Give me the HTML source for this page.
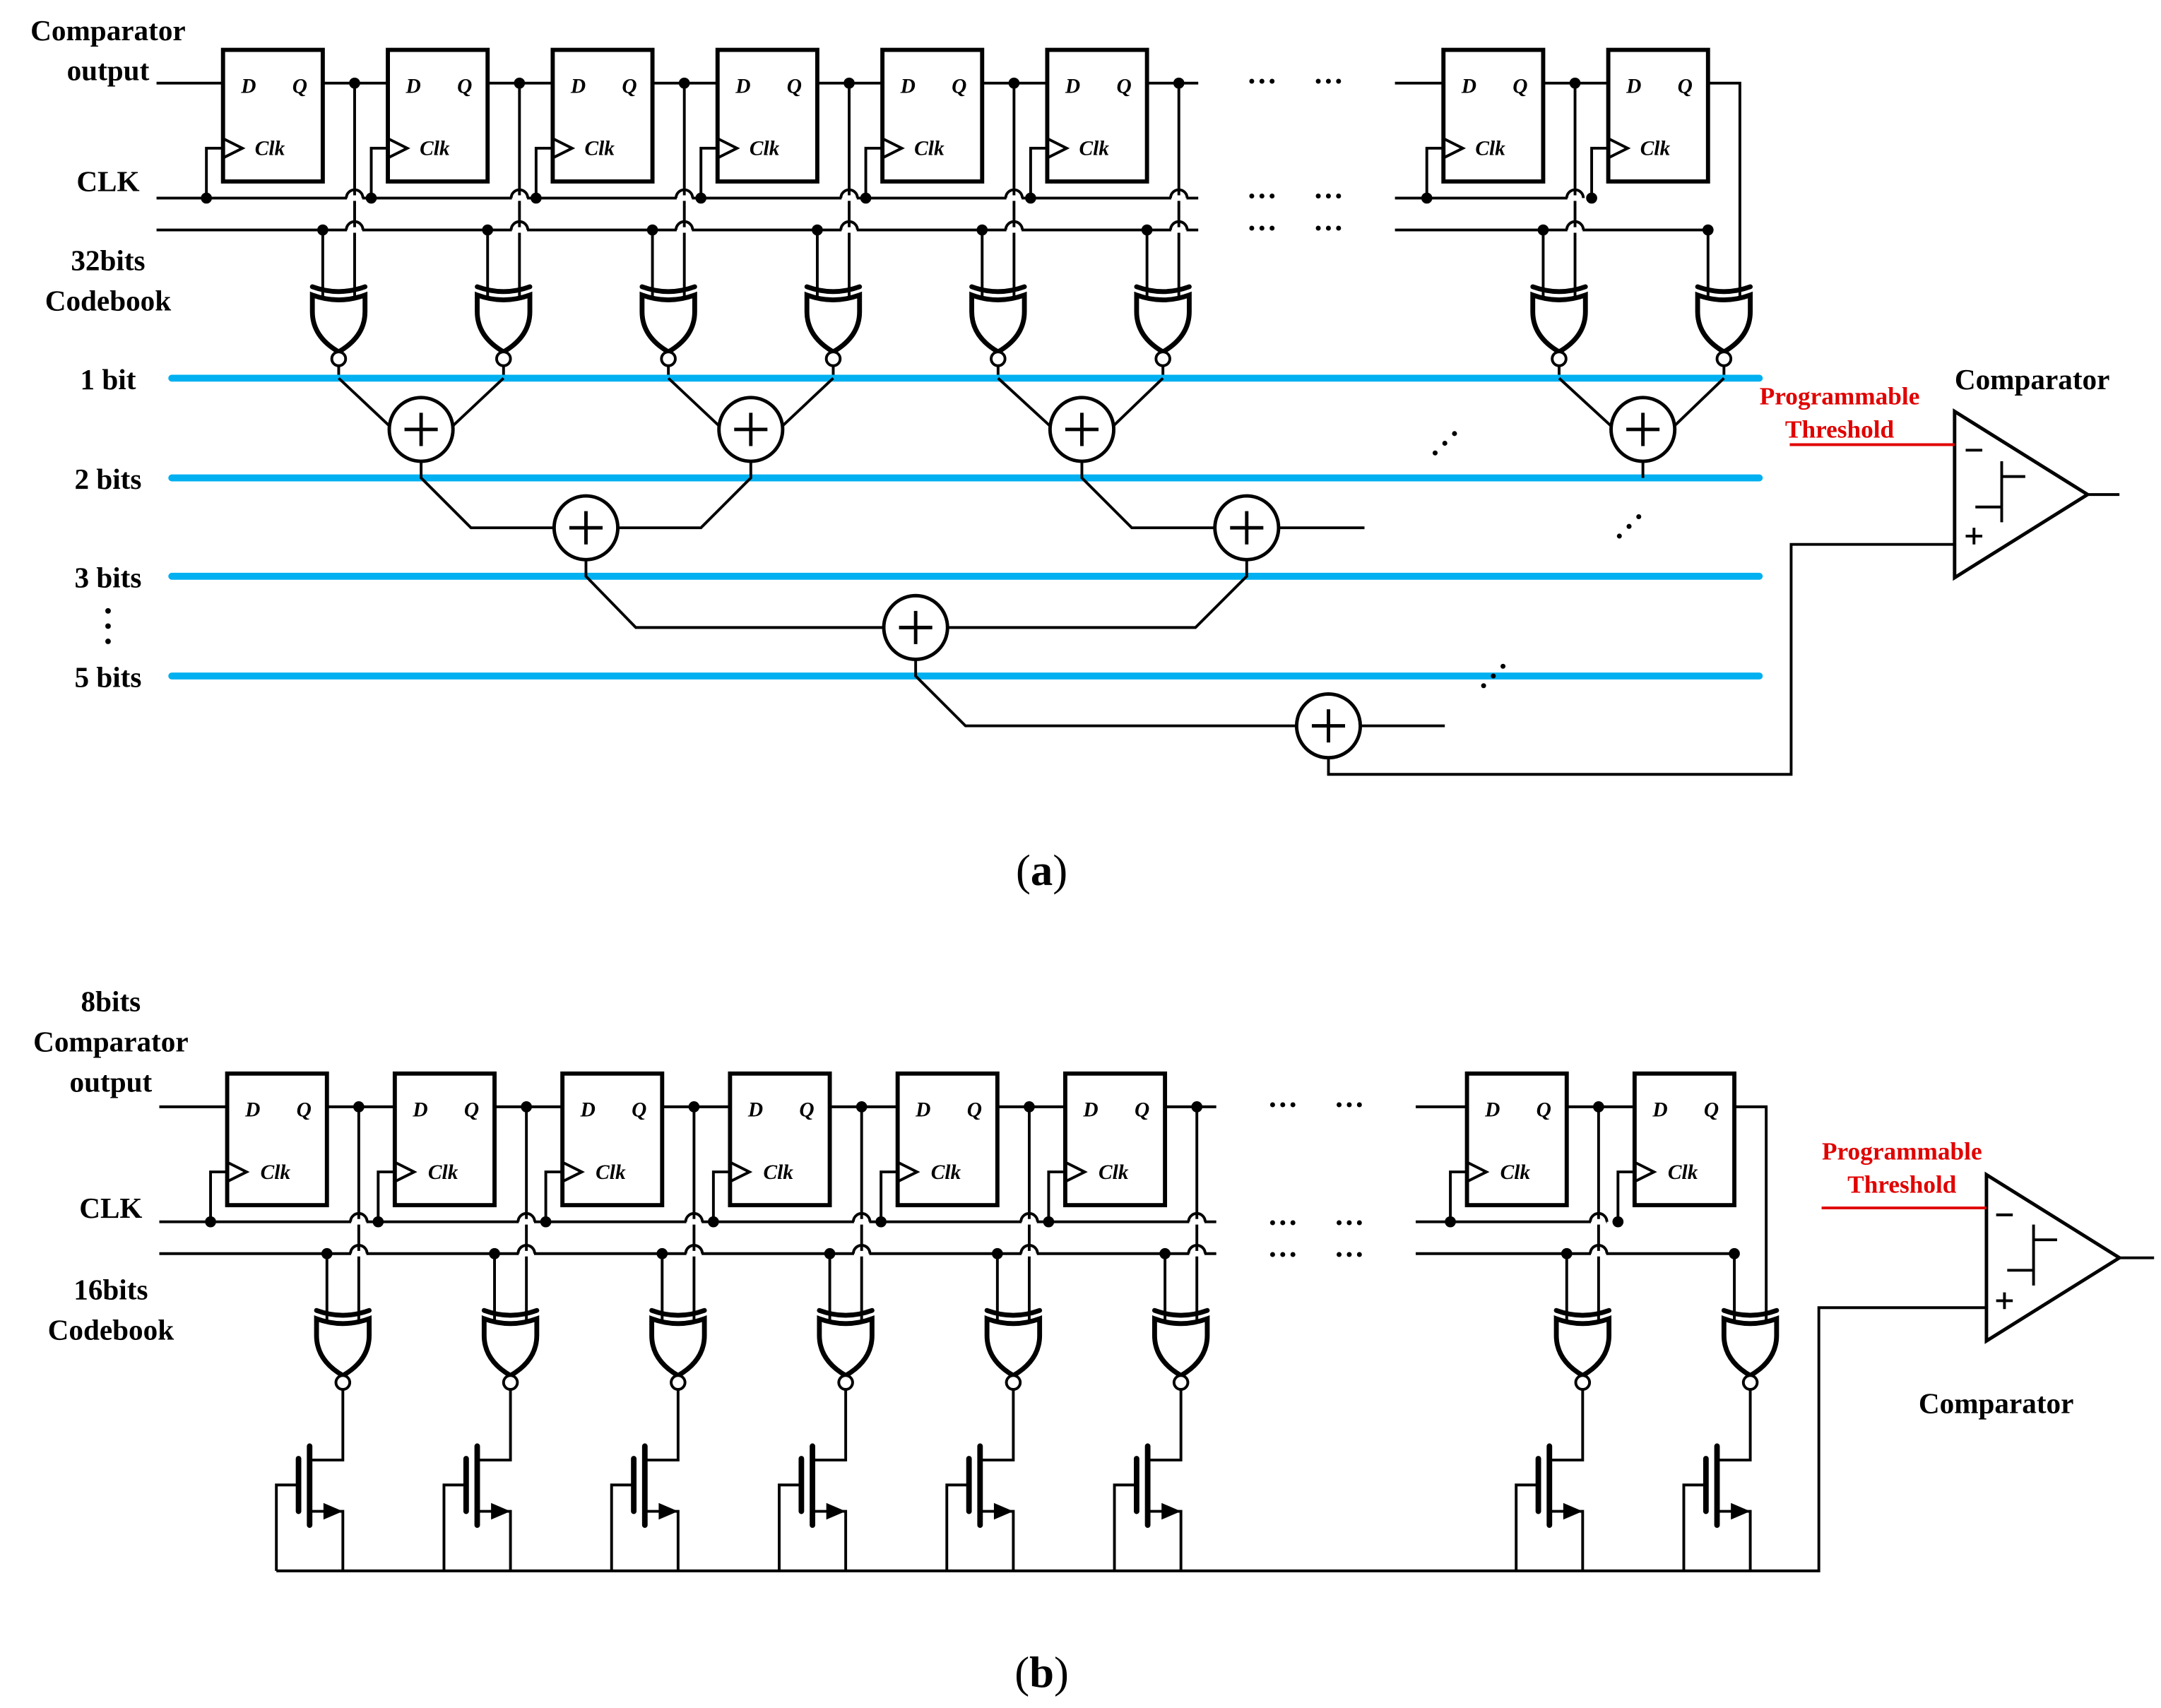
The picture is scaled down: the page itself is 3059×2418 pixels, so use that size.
<!DOCTYPE html>
<html><head><meta charset="utf-8"><style>
html,body{margin:0;padding:0;background:#fff;}
svg{display:block;}
text{font-family:"Liberation Serif",serif;font-weight:bold;}
.l{font-size:21px;text-anchor:middle;}
.ff{font-size:15px;font-style:italic;}
.red{fill:#e00000;font-size:18px;text-anchor:middle;}
</style></head><body>
<svg width="3059" height="2418" viewBox="0 0 1560 1233" preserveAspectRatio="none" xmlns="http://www.w3.org/2000/svg">
<defs>
<g id="base" stroke="#000" fill="none">
 <rect x="0" y="36" width="72" height="95" fill="#fff" stroke-width="3"/>
 <polyline points="0,100 14,107 0,114" stroke-width="2"/>
 <path d="M-12,143 V107 H0" stroke-width="2"/>
 <circle cx="-12" cy="143" r="3.5" fill="#000"/>
 <circle cx="72" cy="166" r="3.5" fill="#000"/>
 <line x1="72" y1="166" x2="72" y2="217" stroke-width="2"/>
 <path d="M64.5,207 Q83.5,214 102.5,207" stroke-width="3.5" stroke-linecap="round"/>
 <path d="M64.5,213 Q83.5,220 102.5,213 L102.5,225 Q102.5,243 83.5,254 Q64.5,243 64.5,225 Z" fill="#fff" stroke-width="3.5"/>
 <circle cx="83.5" cy="259" r="5" fill="#fff" stroke-width="2"/>
</g>
<g id="col" stroke="#000" fill="none">
 <circle cx="95" cy="60" r="3.5" fill="#000"/>
 <line x1="95" y1="60" x2="95" y2="217" stroke-width="2"/>
 <line x1="89.5" y1="143" x2="100.5" y2="143" stroke="#fff" stroke-width="4"/>
 <line x1="89.5" y1="166" x2="100.5" y2="166" stroke="#fff" stroke-width="4"/>
 <path d="M89,143 A6,6 0 0 1 101,143 M89,166 A6,6 0 0 1 101,166" stroke-width="2"/>
 <use href="#base"/>
</g>
<g id="colL" stroke="#000" fill="none">
 <path d="M72,60 H95 V217" stroke-width="2"/>
 <use href="#base"/>
</g>
<g id="add" stroke="#000" stroke-width="2.5">
 <circle cx="0" cy="0" r="23" fill="#fff"/>
 <path d="M-12,0 H12 M0,-12 V12"/>
</g>
<g id="tr" stroke="#000" fill="none" stroke-width="2">
 <path d="M0,1003 V1054 H-23"/>
 <line x1="-24" y1="1044" x2="-24" y2="1101" stroke-width="4" stroke-linecap="round"/>
 <line x1="-32" y1="1053" x2="-32" y2="1091" stroke-width="4" stroke-linecap="round"/>
 <path d="M-32,1072 H-48 V1134 M-24,1091 H0 V1134"/>
 <polygon points="-14,1085 0,1091 -14,1097" fill="#000" stroke="none"/>
</g>
</defs>

<!-- ===== (a) ===== -->
<g stroke="#000" stroke-width="2" fill="none">
 <path d="M113,60 H865 M1007,60 H1233"/>
 <path d="M113,143 H865 M1007,143 H1141"/>
 <path d="M113,166 H865 M1007,166 H1233"/>
</g>
<use href="#col" x="161"/><use href="#col" x="280"/><use href="#col" x="399"/>
<use href="#col" x="518"/><use href="#col" x="637"/><use href="#col" x="756"/>
<use href="#col" x="1042"/><use href="#colL" x="1161"/>
<g class="ff">
<text x="174" y="67">D</text><text x="211" y="67">Q</text><text x="184" y="112">Clk</text>
<text x="293" y="67">D</text><text x="330" y="67">Q</text><text x="303" y="112">Clk</text>
<text x="412" y="67">D</text><text x="449" y="67">Q</text><text x="422" y="112">Clk</text>
<text x="531" y="67">D</text><text x="568" y="67">Q</text><text x="541" y="112">Clk</text>
<text x="650" y="67">D</text><text x="687" y="67">Q</text><text x="660" y="112">Clk</text>
<text x="769" y="67">D</text><text x="806" y="67">Q</text><text x="779" y="112">Clk</text>
<text x="1055" y="67">D</text><text x="1092" y="67">Q</text><text x="1065" y="112">Clk</text>
<text x="1174" y="67">D</text><text x="1211" y="67">Q</text><text x="1184" y="112">Clk</text>
</g>
<g font-size="22" font-family="Liberation Serif" font-weight="bold" text-anchor="middle">
<text x="911" y="66">···</text><text x="959" y="66">···</text>
<text x="911" y="149">···</text><text x="959" y="149">···</text>
<text x="911" y="172">···</text><text x="959" y="172">···</text>
</g>
<g stroke="#000" stroke-width="2" fill="none">
 <path d="M244.5,264 V273 M363.5,264 V273 M482.5,264 V273 M601.5,264 V273 M720.5,264 V273 M839.5,264 V273 M1125.5,264 V273 M1244.5,264 V273"/>
</g>
<g stroke="#00b0f0" stroke-width="5" stroke-linecap="round">
 <line x1="124" y1="273" x2="1270" y2="273"/>
 <line x1="124" y1="345" x2="1270" y2="345"/>
 <line x1="124" y1="416" x2="1270" y2="416"/>
 <line x1="124" y1="488" x2="1270" y2="488"/>
</g>
<g stroke="#000" stroke-width="2" fill="none">
 <path d="M244.5,273 L287,313 M363.5,273 L321,313"/>
 <path d="M482.5,273 L525,313 M601.5,273 L559,313"/>
 <path d="M720.5,273 L764,313 M839.5,273 L798,313"/>
 <path d="M1125.5,273 L1169,313 M1244.5,273 L1203,313"/>
 <path d="M304,333 V345 L340,381 H400 M542,333 V345 L506,381 H446"/>
 <path d="M781,333 V345 L817,381 H877 M923,381 H985 M1186,333 V345"/>
 <path d="M423,404 V416 L459,453 H638 M900,404 V416 L863,453 H684"/>
 <path d="M661,476 V488 L697,524 H936 M982,524 H1043"/>
 <path d="M959,547 V559 H1293 V393 H1411"/>
 <path d="M1507,357 H1530"/>
 <polygon points="1411,297 1411,417 1507,357" stroke-width="2.5"/>
 <path d="M1426,366 H1445 V344 H1462 M1445,333 V377"/>
 <path d="M1419,325 H1431 M1419,387 H1431 M1425,381 V393"/>
</g>
<line x1="1292" y1="321" x2="1411" y2="321" stroke="#e00000" stroke-width="2"/>
<use href="#add" x="304" y="310"/><use href="#add" x="542" y="310"/>
<use href="#add" x="781" y="310"/><use href="#add" x="1186" y="310"/>
<use href="#add" x="423" y="381"/><use href="#add" x="900" y="381"/>
<use href="#add" x="661" y="453"/><use href="#add" x="959" y="524"/>
<g fill="#000">
 <circle cx="1036" cy="327" r="1.8"/><circle cx="1043" cy="320" r="1.8"/><circle cx="1050" cy="313" r="1.8"/>
 <circle cx="1169" cy="387" r="1.8"/><circle cx="1176" cy="380" r="1.8"/><circle cx="1183" cy="373" r="1.8"/>
 <circle cx="1071" cy="495" r="1.8"/><circle cx="1078" cy="488" r="1.8"/><circle cx="1085" cy="481" r="1.8"/>
 <circle cx="78" cy="441" r="2"/><circle cx="78" cy="452" r="2"/><circle cx="78" cy="463" r="2"/>
</g>
<text class="l" x="78" y="29">Comparator</text>
<text class="l" x="78" y="58">output</text>
<text class="l" x="78" y="138">CLK</text>
<text class="l" x="78" y="195">32bits</text>
<text class="l" x="78" y="224">Codebook</text>
<text class="l" x="78" y="281">1 bit</text>
<text class="l" x="78" y="353">2 bits</text>
<text class="l" x="78" y="424">3 bits</text>
<text class="l" x="78" y="496">5 bits</text>
<text class="red" x="1328" y="292">Programmable</text>
<text class="red" x="1328" y="316">Threshold</text>
<text class="l" x="1467" y="281">Comparator</text>
<text x="752" y="639" font-size="32" text-anchor="middle" style="font-weight:normal">(<tspan font-weight="bold">a</tspan>)</text>

<!-- ===== (b) ===== -->
<g stroke="#000" stroke-width="2" fill="none">
 <path d="M115,799 H878 M1022,799 H1253"/>
 <path d="M115,882 H878 M1022,882 H1160"/>
 <path d="M115,905 H878 M1022,905 H1253"/>
</g>
<g transform="translate(0,739)">
<use href="#col" x="164"/><use href="#col" x="285"/><use href="#col" x="406"/>
<use href="#col" x="527"/><use href="#col" x="648"/><use href="#col" x="769"/>
<use href="#col" x="1059"/><use href="#colL" x="1180"/>
</g>
<g class="ff">
<text x="177" y="806">D</text><text x="214" y="806">Q</text><text x="188" y="851">Clk</text>
<text x="298" y="806">D</text><text x="335" y="806">Q</text><text x="309" y="851">Clk</text>
<text x="419" y="806">D</text><text x="456" y="806">Q</text><text x="430" y="851">Clk</text>
<text x="540" y="806">D</text><text x="577" y="806">Q</text><text x="551" y="851">Clk</text>
<text x="661" y="806">D</text><text x="698" y="806">Q</text><text x="672" y="851">Clk</text>
<text x="782" y="806">D</text><text x="819" y="806">Q</text><text x="793" y="851">Clk</text>
<text x="1072" y="806">D</text><text x="1109" y="806">Q</text><text x="1083" y="851">Clk</text>
<text x="1193" y="806">D</text><text x="1230" y="806">Q</text><text x="1204" y="851">Clk</text>
</g>
<g font-size="22" font-family="Liberation Serif" font-weight="bold" text-anchor="middle">
<text x="926" y="805">···</text><text x="974" y="805">···</text>
<text x="926" y="890">···</text><text x="974" y="890">···</text>
<text x="926" y="913">···</text><text x="974" y="913">···</text>
</g>
<use href="#tr" x="247.5"/><use href="#tr" x="368.5"/><use href="#tr" x="489.5"/>
<use href="#tr" x="610.5"/><use href="#tr" x="731.5"/><use href="#tr" x="852.5"/>
<use href="#tr" x="1142.5"/><use href="#tr" x="1263.5"/>
<g stroke="#000" stroke-width="2" fill="none">
 <path d="M199.5,1134 H1313 V944 H1434"/>
 <path d="M1530,908 H1555"/>
 <polygon points="1434,848 1434,968 1530,908" stroke-width="2.5"/>
 <path d="M1449,917 H1468 V895 H1485 M1468,884 V928"/>
 <path d="M1441,877 H1453 M1441,939 H1453 M1447,933 V945"/>
</g>
<line x1="1315" y1="872" x2="1434" y2="872" stroke="#e00000" stroke-width="2"/>
<text class="l" x="80" y="730">8bits</text>
<text class="l" x="80" y="759">Comparator</text>
<text class="l" x="80" y="788">output</text>
<text class="l" x="80" y="879">CLK</text>
<text class="l" x="80" y="938">16bits</text>
<text class="l" x="80" y="967">Codebook</text>
<text class="red" x="1373" y="837">Programmable</text>
<text class="red" x="1373" y="861">Threshold</text>
<text class="l" x="1441" y="1020">Comparator</text>
<text x="752" y="1218" font-size="32" text-anchor="middle" style="font-weight:normal">(<tspan font-weight="bold">b</tspan>)</text>
</svg>
</body></html>
